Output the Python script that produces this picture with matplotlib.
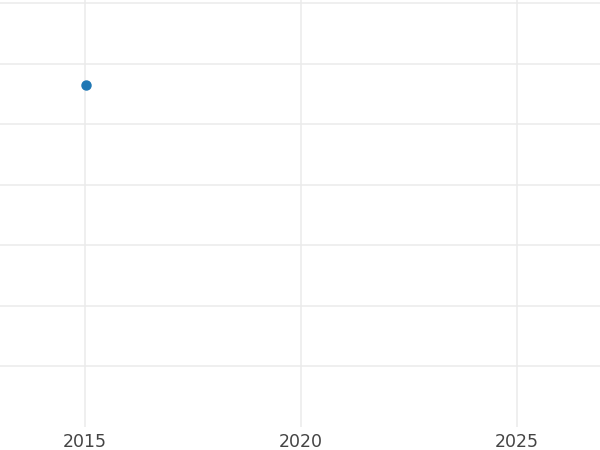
import matplotlib
matplotlib.use("Agg")
import matplotlib.pyplot as plt

# datos: un solo punto
anios = [2015.03]
valores = [5.65]
ticks_x = [2015, 2020, 2025]
ticks_y = [1, 2, 3, 4, 5, 6, 7]

fig = plt.figure(figsize=(6, 4.5), dpi=100)
ax = fig.add_axes([0, 23 / 450, 1, 427 / 450])

ax.plot(anios, valores, marker="o", linestyle="none", color="#1f77b4", markersize=6.5)

ax.set_xlim(2013.03, 2026.92)
ax.set_ylim(0, 7.05)
ax.set_xticks(ticks_x)
ax.set_yticks(ticks_y)
ax.set_yticklabels([])
ax.tick_params(axis="both", length=0, labelsize=12.5, labelcolor="#444444", pad=4)
ax.grid(True, color="#ebebeb", linewidth=1.1)
ax.set_axisbelow(True)
for s in ax.spines.values():
    s.set_visible(False)

fig.savefig("out.png", dpi=100)
